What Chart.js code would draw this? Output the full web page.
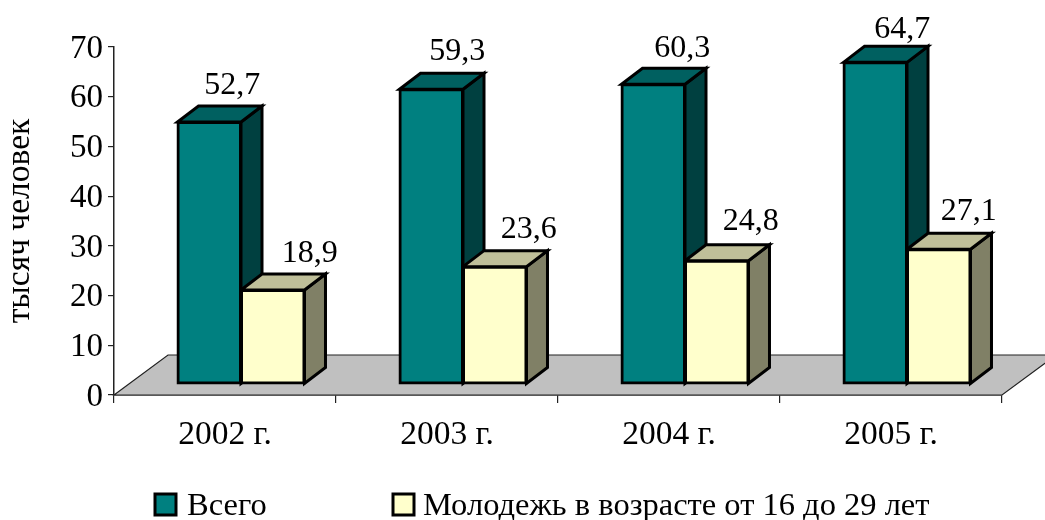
<!DOCTYPE html>
<html lang="ru">
<head>
<meta charset="utf-8">
<title>Численность безработных</title>
<script src="https://cdn.jsdelivr.net/npm/chart.js@4"></script>
<style>
  html, body { margin: 0; padding: 0; background: #fff; }
  #wrap { width: 1045px; height: 520px; overflow: hidden; }
</style>
</head>
<body>
<div id="wrap"><canvas id="myChart"></canvas></div>
<script>
'use strict';

const categories = ['2002 г.', '2003 г.', '2004 г.', '2005 г.'];
const totalValues = [52.7, 59.3, 60.3, 64.7];
const youthValues = [18.9, 23.6, 24.8, 27.1];
const seriesNames = ['Всего', 'Молодежь в возрасте от 16 до 29 лет'];
const yTitle = 'тысяч человек';

const fontName = '"Liberation Serif", serif';
const frontColors = ['#008080', '#ffffcc'];
const topColors = ['#006060', '#bfbf99'];
const sideColors = ['#004040', '#808066'];

// offset of the bar fronts from the axis corner, and depth of a bar
const shiftX = 16, shiftY = -11;
const depthX = 21, depthY = -16;
const floorX = 54, floorY = -40;
// the labels sit off to the right of each bar, not the same for all of them
const labelShift = [[23, 26, 29, 27], [37, 34, 34, 30]];
const labelLift = [[28, 29, 27, 24], [28, 29, 31, 29]];

function poly(ctx, points, fill, stroke, width) {
  ctx.beginPath();
  ctx.moveTo(points[0][0], points[0][1]);
  for (let i = 1; i < points.length; i++) {
    ctx.lineTo(points[i][0], points[i][1]);
  }
  ctx.closePath();
  ctx.fillStyle = fill;
  ctx.fill();
  ctx.lineJoin = 'miter';
  ctx.strokeStyle = stroke;
  ctx.lineWidth = width;
  ctx.stroke();
}

const bars3d = {
  id: 'bars3d',
  beforeDatasetsDraw(chart) {
    const ctx = chart.ctx;
    const a = chart.chartArea;
    // grey floor
    poly(ctx, [[a.left, a.bottom], [a.left + floorX, a.bottom + floorY],
      [a.right + floorX, a.bottom + floorY], [a.right, a.bottom]], '#c0c0c0', '#222', 1.2);

    ctx.save();
    ctx.translate(shiftX, shiftY);
    // sides and tops first, fronts are drawn over them by the library
    for (let c = 0; c < categories.length; c++) {
      for (let d = 0; d < 2; d++) {
        const b = chart.getDatasetMeta(d).data[c];
        const l = b.x - b.width / 2, r = b.x + b.width / 2;
        poly(ctx, [[r, b.y], [r + depthX, b.y + depthY], [r + depthX, b.base + depthY], [r, b.base]],
          sideColors[d], '#000', 3);
        poly(ctx, [[l, b.y], [l + depthX, b.y + depthY], [r + depthX, b.y + depthY], [r, b.y]],
          topColors[d], '#000', 3);
      }
    }
  },
  afterDatasetsDraw(chart) {
    const ctx = chart.ctx;
    ctx.restore();

    // value labels
    ctx.save();
    ctx.fillStyle = '#000';
    ctx.font = '32px ' + fontName;
    ctx.textAlign = 'center';
    ctx.textBaseline = 'alphabetic';
    for (let d = 0; d < 2; d++) {
      chart.getDatasetMeta(d).data.forEach(function (b, i) {
        const text = chart.data.datasets[d].data[i].toFixed(1).replace('.', ',');
        ctx.fillText(text, b.x + shiftX + labelShift[d][i], b.y + shiftY - labelLift[d][i]);
      });
    }
    ctx.restore();

    // legend
    ctx.save();
    ctx.font = '32.5px ' + fontName;
    ctx.textBaseline = 'middle';
    ctx.textAlign = 'left';
    const boxX = [155, 393];
    const textX = [187, 423];
    for (let d = 0; d < 2; d++) {
      ctx.fillStyle = frontColors[d];
      ctx.fillRect(boxX[d], 494, 21, 21);
      ctx.strokeStyle = '#000';
      ctx.lineWidth = 3;
      ctx.strokeRect(boxX[d], 494, 21, 21);
      ctx.fillStyle = '#000';
      ctx.fillText(seriesNames[d], textX[d], 506);
    }
    ctx.restore();
  }
};

const ctx = document.getElementById('myChart').getContext('2d');
new Chart(ctx, {
  type: 'bar',
  data: {
    labels: categories,
    datasets: [
      { label: seriesNames[0], data: totalValues, backgroundColor: frontColors[0] },
      { label: seriesNames[1], data: youthValues, backgroundColor: frontColors[1] }
    ]
  },
  options: {
    responsive: true,
    maintainAspectRatio: false,
    animation: false,
    clip: false,
    layout: { padding: { top: 47, right: 43, bottom: 0, left: 0 } },
    datasets: {
      bar: {
        barPercentage: 1,
        categoryPercentage: 0.572,
        borderColor: '#000',
        borderWidth: 3,
        borderSkipped: false,
        inflateAmount: 1
      }
    },
    plugins: {
      legend: { display: false },
      tooltip: { enabled: false }
    },
    scales: {
      x: {
        afterFit(scale) { scale.height = 125; },
        grid: { drawOnChartArea: false, tickLength: 8, color: '#222', lineWidth: 1.2, offset: true },
        border: { color: '#222', width: 1.5 },
        ticks: { color: '#000', font: { family: fontName, size: 33.5 }, padding: 12, maxRotation: 0 }
      },
      y: {
        min: 0,
        max: 70,
        afterFit(scale) { scale.width = 114; },
        grid: { drawOnChartArea: false, tickLength: 6, color: '#222', lineWidth: 1.2 },
        border: { color: '#222', width: 1.5 },
        ticks: { stepSize: 10, color: '#000', font: { family: fontName, size: 33 }, padding: 5, labelOffset: 2 },
        title: {
          display: true,
          text: yTitle,
          color: '#000',
          font: { family: fontName, size: 33.5 },
          padding: { top: 0, bottom: 0 }
        }
      }
    }
  },
  plugins: [bars3d]
});
</script>
</body>
</html>
